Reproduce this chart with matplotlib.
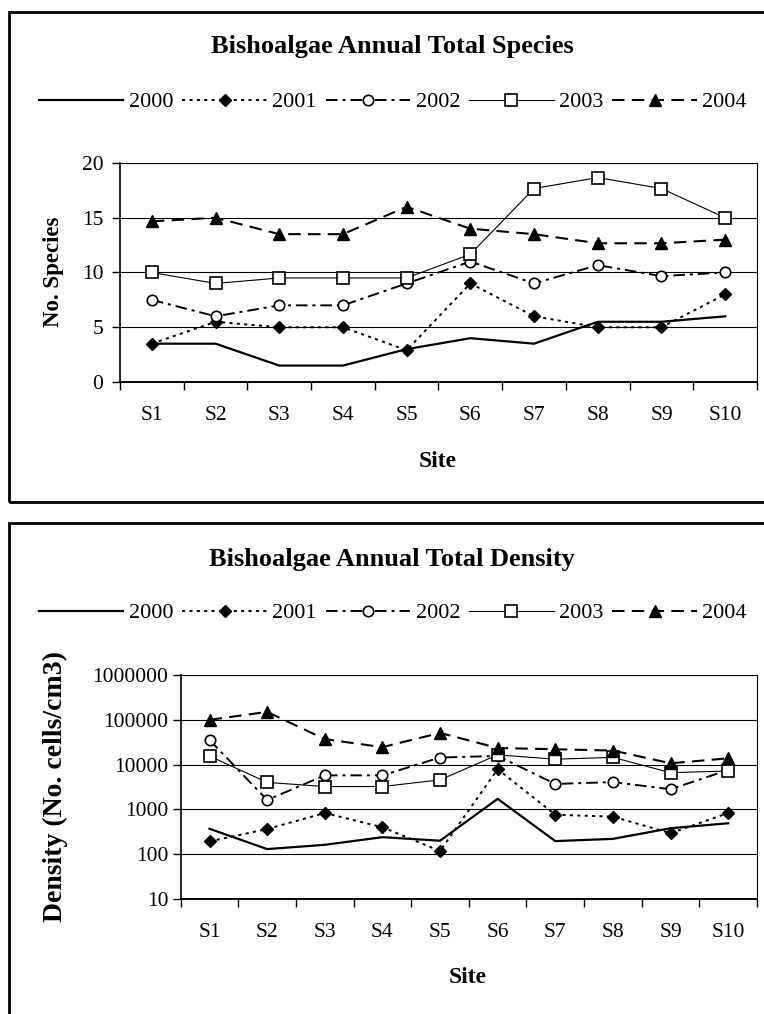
import matplotlib
matplotlib.use('Agg')
import matplotlib.pyplot as plt
from matplotlib.patches import Rectangle
from matplotlib.ticker import FixedLocator, FixedFormatter, NullLocator
import numpy as np

plt.rcParams['font.family'] = ['Liberation Serif', 'DejaVu Serif']

# ---------------- data ----------------
sites = ['S1', 'S2', 'S3', 'S4', 'S5', 'S6', 'S7', 'S8', 'S9', 'S10']
years = ['2000', '2001', '2002', '2003', '2004']

species_2000 = [3.5, 3.5, 1.5, 1.5, 3, 4, 3.5, 5.5, 5.5, 6]
species_2001 = [3.5, 5.5, 5, 5, 2.9, 9, 6, 5, 5, 8]
species_2002 = [7.5, 6, 7, 7, 9, 11, 9, 10.67, 9.67, 10]
species_2003 = [10, 9, 9.5, 9.5, 9.5, 11.67, 17.67, 18.67, 17.67, 15]
species_2004 = [14.67, 15, 13.5, 13.5, 16, 14, 13.5, 12.67, 12.67, 13]

density_2000 = [370, 130, 162, 240, 200, 1720, 196, 220, 380, 490]
density_2001 = [193, 365, 830, 400, 118, 7900, 760, 690, 294, 830]
density_2002 = [35500, 1620, 5750, 5750, 14400, 15600, 3700, 4070, 2820, 7600]
density_2003 = [15500, 4000, 3240, 3240, 4560, 16500, 13200, 14500, 6600, 7200]
density_2004 = [100000, 150000, 37000, 24500, 51000, 23500, 22000, 20600, 10700, 13800]

species_ticks = [0, 5, 10, 15, 20]
species_tick_labels = ['0', '5', '10', '15', '20']
density_ticks = [10, 100, 1000, 10000, 100000, 1000000]
density_tick_labels = ['10', '100', '1000', '10000', '100000', '1000000']

title_species = 'Bishoalgae Annual Total Species'
title_density = 'Bishoalgae Annual Total Density'
ylabel_species = 'No. Species'
ylabel_density = 'Density (No. cells/cm3)'
xlabel = 'Site'

species = [species_2000, species_2001, species_2002, species_2003, species_2004]
density = [density_2000, density_2001, density_2002, density_2003, density_2004]

# ---------------- styles ----------------
styles = [
    dict(color='black', lw=1.6, ls='-'),
    dict(color='black', lw=1.4, dashes=(1.6, 2.2), marker='D', ms=6.5,
         mfc='black', mec='black'),
    dict(color='black', lw=1.4, dashes=(6, 2.5, 1.6, 2.5), marker='o', ms=7.5,
         mfc='white', mec='black', mew=1.2),
    dict(color='black', lw=0.8, ls='-', marker='s', ms=8,
         mfc='white', mec='black', mew=1.2),
    dict(color='black', lw=1.5, dashes=(6, 3.5), marker='^', ms=9,
         mfc='black', mec='black'),
]

W, H = 764, 1014
fig = plt.figure(figsize=(W / 100, H / 100), dpi=100)


def fx(px):
    return px / W


def fy(py):
    return 1 - py / H


def make_axes(left, top, right, bottom):
    return fig.add_axes([fx(left), fy(bottom), (right - left) / W, (bottom - top) / H])


def setup(ax, ypad):
    x = np.arange(1, len(sites) + 1)
    ax.set_xlim(0.5, len(sites) + 0.5)
    ax.xaxis.set_major_locator(FixedLocator(np.arange(0.5, len(sites) + 1, 1)))
    ax.xaxis.set_major_formatter(FixedFormatter([''] * (len(sites) + 1)))
    ax.xaxis.set_minor_locator(FixedLocator(x))
    ax.xaxis.set_minor_formatter(FixedFormatter(sites))
    ax.tick_params(axis='x', which='major', length=5.5, width=1, direction='out')
    ax.tick_params(axis='x', which='minor', length=0, pad=17, labelsize=15.5)
    ax.tick_params(axis='y', which='major', length=5.5, width=1, direction='out',
                   pad=ypad, labelsize=15.5)
    ax.grid(axis='y', which='major', color='black', lw=0.8)
    ax.set_axisbelow(True)
    for s in ['top', 'right']:
        ax.spines[s].set_linewidth(0.8)
    ax.spines['left'].set_linewidth(1.2)
    ax.spines['bottom'].set_linewidth(1.4)
    return x


# ---------------- frames ----------------
fig.add_artist(Rectangle((fx(9), fy(502)), 1.0, (502 - 12) / H, transform=fig.transFigure,
                         fill=False, lw=2.0, ec='black'))
fig.add_artist(Rectangle((fx(9), fy(1060)), 1.0, (1060 - 523) / H, transform=fig.transFigure,
                         fill=False, lw=2.0, ec='black'))

# ---------------- top chart ----------------
ax1 = make_axes(120, 163, 757, 382)
x = setup(ax1, 6.5)
lines = []
for yr, vals, st in zip(years, species, styles):
    ln, = ax1.plot(x, vals, label=yr, **st)
    lines.append(ln)
ax1.set_ylim(0, 20)
ax1.yaxis.set_major_locator(FixedLocator(species_ticks))
ax1.yaxis.set_major_formatter(FixedFormatter(species_tick_labels))

fig.text(fx(392), fy(53), title_species, ha='center', va='baseline',
         fontsize=19, fontweight='bold')
fig.legend(handles=lines, labels=years, loc='center', bbox_to_anchor=(fx(393), fy(102)),
           ncol=5, frameon=False, fontsize=16, handlelength=3.8, handletextpad=0.25,
           columnspacing=0.4, borderaxespad=0, borderpad=0)
fig.text(fx(438), fy(467), xlabel, ha='center', va='baseline', fontsize=17, fontweight='bold')
fig.text(fx(54), fy(272), ylabel_species, ha='center', va='center', rotation=90,
         fontsize=16.5, fontweight='bold')

# ---------------- bottom chart ----------------
ax2 = make_axes(180.7, 675, 757, 899)
ax2.set_yscale('log')
x = setup(ax2, 3.5)
lines2 = []
for yr, vals, st in zip(years, density, styles):
    ln, = ax2.plot(x, vals, label=yr, **st)
    lines2.append(ln)
ax2.set_ylim(10, 1000000)
ax2.yaxis.set_major_locator(FixedLocator(density_ticks))
ax2.yaxis.set_major_formatter(FixedFormatter(density_tick_labels))
ax2.yaxis.set_minor_locator(NullLocator())

fig.text(fx(392), fy(566), title_density, ha='center', va='baseline',
         fontsize=19, fontweight='bold')
fig.legend(handles=lines2, labels=years, loc='center', bbox_to_anchor=(fx(393), fy(613)),
           ncol=5, frameon=False, fontsize=16, handlelength=3.8, handletextpad=0.25,
           columnspacing=0.4, borderaxespad=0, borderpad=0)
fig.text(fx(468), fy(983), xlabel, ha='center', va='baseline', fontsize=17, fontweight='bold')
fig.text(fx(55), fy(787), ylabel_density, ha='center', va='center', rotation=90,
         fontsize=20, fontweight='bold')

fig.savefig('out.png', dpi=100)
